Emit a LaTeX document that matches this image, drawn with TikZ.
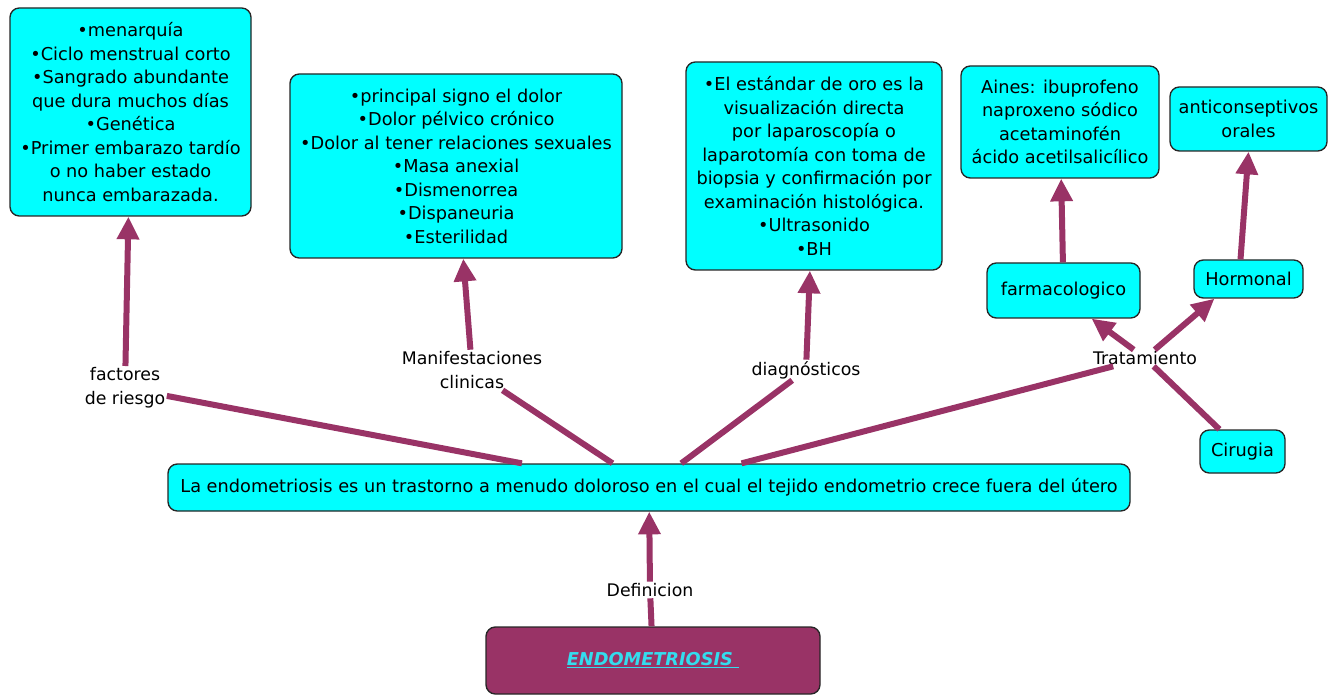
\documentclass[tikz,border=0pt]{standalone}
\usepackage{fontspec}
\setmainfont{DejaVu Sans}
\usepackage{xcolor}
\usetikzlibrary{arrows.meta}
\definecolor{conc}{RGB}{0,255,255}
\definecolor{vino}{RGB}{153,51,102}
\definecolor{titulo}{RGB}{51,221,238}

\begin{document}
\begin{tikzpicture}[x=0.75pt,y=-0.75pt,
  caja/.style={draw=black!85,line width=1pt,fill=conc,rounded corners=7pt,
    align=center,inner sep=2pt,font=\fontsize{13.3}{17.6}\selectfont},
  etiqueta/.style={align=center,inner sep=1pt,font=\fontsize{13}{18}\selectfont},
  enlace/.style={line width=4.5pt,color=vino},
  flecha/.style={enlace,-{Triangle[length=17pt,width=16pt]}}]
  \useasboundingbox (0,0) rectangle (1337,698);

  % Main concept
  \node[caja,fill=vino,minimum width=250.5pt,minimum height=50.25pt,
    font=\fontsize{13.3}{16}\selectfont\bfseries\itshape] (endo) at (653,660.5)
    {\color{titulo}\underline{ENDOMETRIOSIS\ }};

  % Definition
  \node[caja,minimum width=721.5pt,minimum height=35.25pt] (principal) at (649,487.5)
    {La endometriosis es un trastorno a menudo doloroso en el cual el tejido endometrio crece fuera del útero};

  % Upper boxes
  \node[caja,minimum width=180.75pt,minimum height=156pt] (riesgo) at (130.5,112)
    {•menarquía\\•Ciclo menstrual corto\\•Sangrado abundante\\que dura muchos días\\•Genética\\•Primer embarazo tardío\\o no haber estado\\nunca embarazada.};
  \node[caja,minimum width=249pt,minimum height=138pt] (signos) at (456,166)
    {•principal signo el dolor\\•Dolor pélvico crónico\\•Dolor al tener relaciones sexuales\\•Masa anexial\\•Dismenorrea\\•Dispaneuria\\•Esterilidad};
  \node[caja,minimum width=192pt,minimum height=156pt] (estudios) at (814,166)
    {•El estándar de oro es la\\visualización directa\\por laparoscopía o\\laparotomía con toma de\\biopsia y confirmación por\\examinación histológica.\\•Ultrasonido\\•BH};
  \node[caja,minimum width=148.5pt,minimum height=84pt] (aines) at (1060,122)
    {Aines: ibuprofeno\\naproxeno sódico\\acetaminofén\\ácido acetilsalicílico};
  \node[caja,minimum width=117.75pt,minimum height=48pt] (orales) at (1248.5,119)
    {anticonseptivos\\orales};

  % Treatment boxes
  \node[caja,minimum width=114.75pt,minimum height=41.25pt] (farmaco) at (1063.5,290.5) {farmacologico};
  \node[caja,minimum width=81.75pt,minimum height=28.5pt] (hormonal) at (1248.5,279) {Hormonal};
  \node[caja,minimum width=63.75pt,minimum height=32.25pt] (cirugia) at (1242.5,451.5) {Cirugia};

  % Link labels
  \node[etiqueta] (factores) at (125,388) {factores\\de riesgo};
  \node[etiqueta] (manif) at (472,370) {Manifestaciones\\clinicas};
  \node[etiqueta] (diag) at (806,370) {diagnósticos};
  \node[etiqueta] (trat) at (1145,358) {Tratamiento};
  \node[etiqueta] (defi) at (650,590) {Definicion};

  % Links
  \draw[enlace] (endo) -- (defi);
  \draw[flecha] (defi) -- (principal);
  \draw[enlace] (principal) -- (factores);
  \draw[flecha] (factores) -- (riesgo);
  \draw[enlace] (principal) -- (manif);
  \draw[flecha] (manif) -- (signos);
  \draw[enlace] (principal) -- (diag);
  \draw[flecha] (diag) -- (estudios);
  \draw[enlace] (principal) -- (trat);
  \draw[flecha] (trat) -- (farmaco.-45);
  \draw[flecha] (trat) -- (hormonal.-150);
  \draw[enlace] (cirugia) -- (trat);
  \draw[flecha] (farmaco) -- (aines);
  \draw[flecha] ([xshift=-6pt]hormonal.north) -- (orales.south);
\end{tikzpicture}
\end{document}
